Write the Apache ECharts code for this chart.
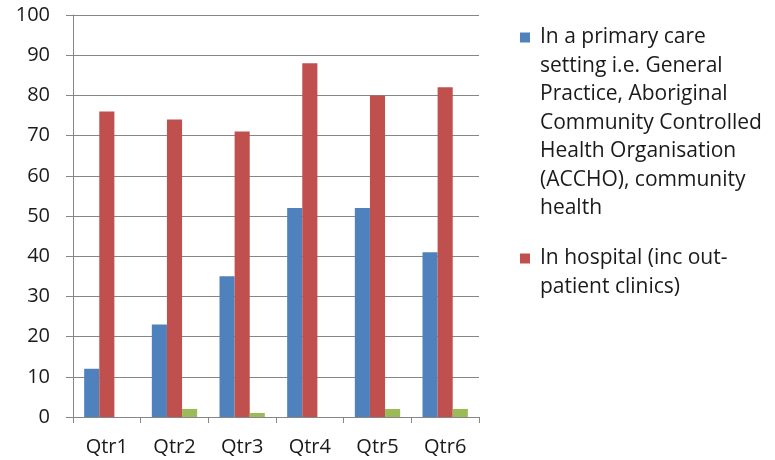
<!DOCTYPE html>
<html>
<head>
<meta charset="utf-8">
<script src="https://cdn.jsdelivr.net/npm/echarts@6/dist/echarts.min.js"></script>
<style>
  html, body { margin: 0; padding: 0; background: #fff; }
  #chart { width: 775px; height: 460px; }
</style>
</head>
<body>
<div id="chart"></div>
<script>
const categories = ['Qtr1', 'Qtr2', 'Qtr3', 'Qtr4', 'Qtr5', 'Qtr6'];
const primaryCare = [12, 23, 35, 52, 52, 41];
const hospital = [76, 74, 71, 88, 80, 82];
const other = [0, 2, 1, 0, 2, 2];

const primaryName = 'In a primary care setting i.e. General Practice, Aboriginal Community Controlled Health Organisation (ACCHO), community health';
const hospitalName = 'In hospital (inc out-patient clinics)';
const otherName = 'Other';

// legend text is wrapped by hand, like the original
const legendLines = {};
legendLines[primaryName] = [
  'In a primary care',
  'setting i.e. General',
  'Practice, Aboriginal',
  'Community Controlled',
  'Health Organisation',
  '(ACCHO), community',
  'health'
];
legendLines[hospitalName] = [
  'In hospital (inc out-',
  'patient clinics)'
];

const colors = { primary: '#4F81BD', hospital: '#C0504D', other: '#9BBB59' };
const font = 'Open Sans';

const chart = echarts.init(document.getElementById('chart'), null, { renderer: 'canvas' });

const option = {
  animation: false,
  textStyle: { fontFamily: font },
  grid: { left: 73, top: 15, right: 296, bottom: 43 },
  legend: {
    orient: 'vertical',
    left: 510,
    top: 22,
    icon: 'none',
    itemWidth: 0,
    itemHeight: 0,
    itemGap: 29,
    data: [primaryName, hospitalName],
    formatter: function (name) {
      const lines = legendLines[name];
      const sq = name === primaryName ? 'sqA' : 'sqB';
      return lines.map((l, i) => (i === 0 ? '{' + sq + '|}{sp|}' : '{ind|}') + '{t|' + l + '}').join('\n');
    },
    textStyle: {
      rich: {
        sqA: { width: 10, height: 10, backgroundColor: colors.primary },
        sqB: { width: 10, height: 10, backgroundColor: colors.hospital },
        sp: { width: 10 },
        ind: { width: 20 },
        t: { fontFamily: font, fontSize: 21, lineHeight: 28.5, color: '#1a1a1a' }
      }
    }
  },
  xAxis: {
    type: 'category',
    data: categories,
    axisLine: { lineStyle: { color: '#868686', width: 1 } },
    axisTick: { show: true, length: 6, inside: false, lineStyle: { color: '#868686' } },
    axisLabel: { color: '#1a1a1a', fontSize: 20, margin: 20, fontFamily: font }
  },
  yAxis: {
    type: 'value',
    min: 0,
    max: 100,
    interval: 10,
    axisLine: { show: true, lineStyle: { color: '#868686', width: 1 } },
    axisTick: { show: true, length: 7, lineStyle: { color: '#868686' } },
    axisLabel: { color: '#1a1a1a', fontSize: 20, margin: 23, fontFamily: font },
    splitLine: { show: true, lineStyle: { color: '#868686', width: 1 } }
  },
  series: [
    {
      name: primaryName,
      type: 'bar',
      data: primaryCare,
      barGap: '0%',
      barCategoryGap: '33%',
      itemStyle: { color: colors.primary }
    },
    {
      name: hospitalName,
      type: 'bar',
      data: hospital,
      itemStyle: { color: colors.hospital }
    },
    {
      name: otherName,
      type: 'bar',
      data: other,
      itemStyle: { color: colors.other }
    }
  ]
};

chart.setOption(option);
</script>
</body>
</html>
